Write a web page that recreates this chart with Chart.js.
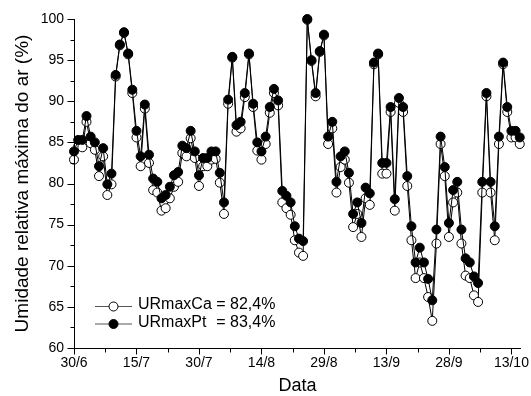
<!DOCTYPE html>
<html><head><meta charset="utf-8">
<script src="https://cdn.jsdelivr.net/npm/chart.js@4"></script>
<style>html,body{margin:0;padding:0;background:#fff}canvas{display:block}</style>
</head><body>
<canvas id="c" width="531" height="396"></canvas>
<script>
// ---- data ----
const tickDays = [0, 15, 30, 45, 60, 75, 90, 105];
const tickLabels = ["30/6", "15/7", "30/7", "14/8", "29/8", "13/9", "28/9", "13/10"];
const urmaxPt = [83.9, 85.3, 85.3, 88.2, 85.7, 85.0, 82.1, 84.3, 79.9, 81.2,
  93.2, 96.9, 98.4, 95.8, 91.4, 86.4, 83.3, 89.6, 83.5, 80.6,
  80.2, 78.2, 78.6, 79.6, 81.0, 81.4, 84.6, 84.3, 86.4, 83.9,
  81.0, 83.1, 83.1, 83.9, 83.9, 81.3, 77.7, 90.2, 95.4, 87.1,
  87.5, 91.0, 95.8, 89.7, 85.0, 83.9, 85.7, 89.3, 91.5, 90.1,
  79.1, 78.5, 77.7, 74.8, 73.3, 73.0, 100, 95.0, 91.0, 96.1,
  98.1, 85.7, 87.5, 80.2, 83.3, 83.9, 81.3, 76.3, 77.7, 75.2,
  79.5, 78.8, 94.7, 95.8, 82.5, 82.5, 89.3, 78.1, 90.4, 89.3,
  80.9, 74.8, 70.4, 72.2, 70.4, 68.4, 65.8, 74.4, 85.7, 82.0,
  75.2, 79.2, 80.2, 74.4, 70.9, 70.4, 68.7, 67.9, 80.2, 91.0,
  80.2, 74.8, 85.7, 94.7, 89.3, 86.4, 86.4, 85.6];
const urmaxCa = [82.9, 84.5, 84.4, 87.5, 84.9, 84.1, 80.9, 83.3, 78.6, 79.9,
  93.0, 96.8, 98.3, 95.7, 91.0, 85.6, 82.1, 89.1, 82.5, 79.2,
  78.9, 76.7, 77.0, 78.2, 79.6, 80.2, 83.7, 83.3, 85.5, 83.1,
  79.7, 82.1, 82.1, 82.9, 83.0, 80.1, 76.3, 89.7, 95.3, 86.3,
  86.7, 90.5, 95.7, 89.3, 84.0, 82.9, 84.8, 88.6, 91.0, 89.5,
  77.7, 77.0, 76.2, 73.1, 71.6, 71.2, 99.9, 94.9, 90.6, 96.0,
  98.0, 84.8, 86.7, 78.9, 82.0, 82.9, 80.1, 74.7, 76.3, 73.5,
  78.2, 77.4, 94.5, 95.7, 81.2, 81.2, 88.7, 76.7, 89.8, 88.7,
  79.7, 73.1, 68.5, 70.4, 68.5, 66.2, 63.3, 72.7, 84.8, 80.9,
  73.5, 77.7, 78.9, 72.7, 68.8, 68.5, 66.4, 65.6, 78.9, 90.6,
  78.9, 73.1, 84.8, 94.5, 88.7, 85.6, 85.6, 84.8];
const legendNames = ["URmaxCa", "URmaxPt"];
const legendMeans = ["82,4%", "83,4%"];

const FONT = "'Liberation Sans', Arial, Helvetica, sans-serif";
Chart.defaults.font.family = FONT;
Chart.defaults.color = '#000';

const days = urmaxPt.map((_, i) => i);   // one reading per day from 30/6
const toPts = arr => arr.map((v, i) => ({x: days[i], y: v}));

const axesPlugin = {
  id: 'axesPlugin',
  afterDraw(chart) {
    const ctx = chart.ctx, xs = chart.scales.x, ys = chart.scales.y;
    const x0 = Math.round(xs.left) + 0.5, y0 = Math.round(ys.bottom) + 0.5;
    ctx.save();
    ctx.strokeStyle = '#000';
    ctx.lineWidth = 1;
    ctx.beginPath();
    ctx.moveTo(x0, Math.round(ys.top)); ctx.lineTo(x0, y0);
    ctx.lineTo(Math.round(xs.right), y0);
    for (let d = 0; d <= xs.max + 0.01; d += 7.5) {
      const px = Math.round(xs.getPixelForValue(d)) + 0.5;
      const len = (d % 15 === 0) ? 6 : 4;
      ctx.moveTo(px, y0); ctx.lineTo(px, y0 + len);
    }
    for (let v = ys.min; v <= ys.max + 0.01; v += 2.5) {
      const py = Math.round(ys.getPixelForValue(v)) + 0.5;
      const len = (v % 5 === 0) ? 7 : 4;
      ctx.moveTo(x0, py); ctx.lineTo(x0 - len, py);
    }
    ctx.stroke();

    // legend
    const lx = 95, tx = 138;
    const rows = [306, 323.5];
    ctx.font = '16px ' + FONT;
    ctx.textBaseline = 'middle';
    ctx.textAlign = 'left';
    const eqX = tx + ctx.measureText(legendNames[0] + ' ').width;
    rows.forEach((ry, i) => {
      ctx.strokeStyle = '#555';
      ctx.beginPath();
      ctx.moveTo(lx, ry + 0.5); ctx.lineTo(lx + 37, ry + 0.5);
      ctx.stroke();
      ctx.beginPath();
      ctx.arc(lx + 18.5, ry + 0.5, 4.5, 0, Math.PI * 2);
      ctx.fillStyle = i === 0 ? '#fff' : '#000';
      ctx.fill();
      ctx.strokeStyle = '#000';
      ctx.stroke();
      ctx.fillStyle = '#000';
      ctx.fillText(legendNames[i], tx, ry - 1);
      ctx.fillText('= ' + legendMeans[i], eqX, ry - 1);
    });
    ctx.restore();
  }
};

new Chart(document.getElementById('c'), {
  type: 'line',
  data: {
    datasets: [
      {label: legendNames[0], data: toPts(urmaxCa), borderColor: '#000', borderWidth: 1,
       pointRadius: 4.5, pointBorderWidth: 1, pointBackgroundColor: '#fff', pointBorderColor: '#000',
       order: 1, clip: false, tension: 0},
      {label: legendNames[1], data: toPts(urmaxPt), borderColor: '#000', borderWidth: 1,
       pointRadius: 4.5, pointBorderWidth: 1, pointBackgroundColor: '#000', pointBorderColor: '#000',
       order: 0, clip: false, tension: 0}
    ]
  },
  options: {
    responsive: false,
    animation: false,
    devicePixelRatio: 1,
    layout: {padding: {left: 0, right: 10, top: 19, bottom: 0}},
    plugins: {legend: {display: false}, tooltip: {enabled: false}},
    scales: {
      x: {
        type: 'linear', min: 0, max: 107.3,
        grid: {display: false, drawTicks: false},
        border: {display: false},
        ticks: {stepSize: 15, includeBounds: false, autoSkip: false, maxRotation: 0, padding: 7,
          font: {size: 14},
          callback: v => { const k = tickDays.indexOf(v); return k >= 0 ? tickLabels[k] : ''; }},
        title: {display: true, text: 'Data', font: {size: 18}, padding: {top: 0, bottom: -1}},
        afterFit: s => { s.height = 48; s.paddingLeft = 0; s.paddingRight = 0; }
      },
      y: {
        min: 60, max: 100,
        grid: {display: false, drawTicks: false},
        border: {display: false},
        ticks: {stepSize: 5, padding: 10, font: {size: 14}},
        title: {display: true, text: 'Umidade relativa máxima do ar (%)', font: {size: 19}, padding: {top: 11, bottom: 0}},
        afterFit: s => { s.width = 74; s.paddingTop = 0; s.paddingBottom = 0; }
      }
    }
  },
  plugins: [axesPlugin]
});
</script>
</body></html>
